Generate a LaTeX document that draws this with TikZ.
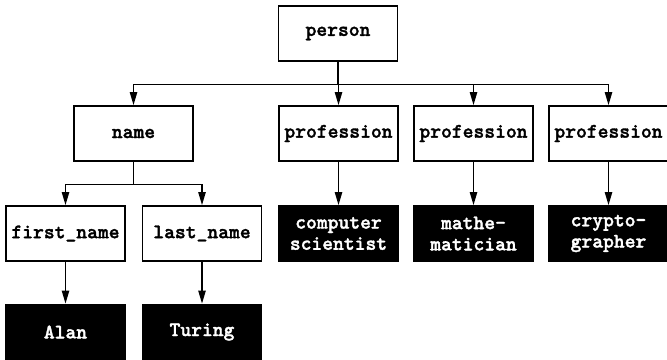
\documentclass[tikz,border=0pt]{standalone}
\usepackage{fontspec}
\newfontfamily\boxfont{lmmonolt10-bold.otf}[FakeBold=1.6]
\usetikzlibrary{arrows.meta}

\begin{document}
\begin{tikzpicture}
[-,line width=0.8pt,x=50pt,y=50pt,%
  every node/.style={shape=rectangle,draw,line width=0.8pt,inner sep=1pt,%
    minimum width=59.5pt,minimum height=27.5pt,align=center,%
    font=\boxfont\fontsize{10.3}{10.6}\selectfont},%
  leaf/.style={fill=black,text=white},%
  bus/.style={-{Triangle[length=6.5pt,width=3.6pt]},%
    to path={(\tikztostart.south) -- ++(0,-0.225) -| (\tikztotarget.north)}}]
\useasboundingbox (0,0.335) rectangle (6.67,-3.255);
\node (person) at (3.38,0) {person};
%%
\node (name) at (1.335,-1) {name};
\node (prof1) at (3.385,-1) {profession};
\node (prof2) at (4.735,-1) {profession};
\node (prof3) at (6.085,-1) {profession};
%%
\node (first) at (0.655,-2) {first\_name};
\node (last) at (2.02,-2) {last\_name};
\node[leaf] (comp) at (3.385,-2) {computer\\scientist};
\node[leaf] (math) at (4.735,-2) {mathe-\\matician};
\node[leaf] (crypt) at (6.085,-2) {crypto-\\grapher};
%%
\node[leaf] (alan) at (0.655,-2.985) {Alan};
\node[leaf] (turing) at (2.02,-2.985) {Turing};
\path
\foreach \startNode/\endNode in {person/name, person/prof1, person/prof2,
  person/prof3, name/first, name/last, prof1/comp, prof2/math, prof3/crypt,
  first/alan, last/turing}
{
  (\startNode) edge[bus] (\endNode)
};
\end{tikzpicture}
\end{document}
